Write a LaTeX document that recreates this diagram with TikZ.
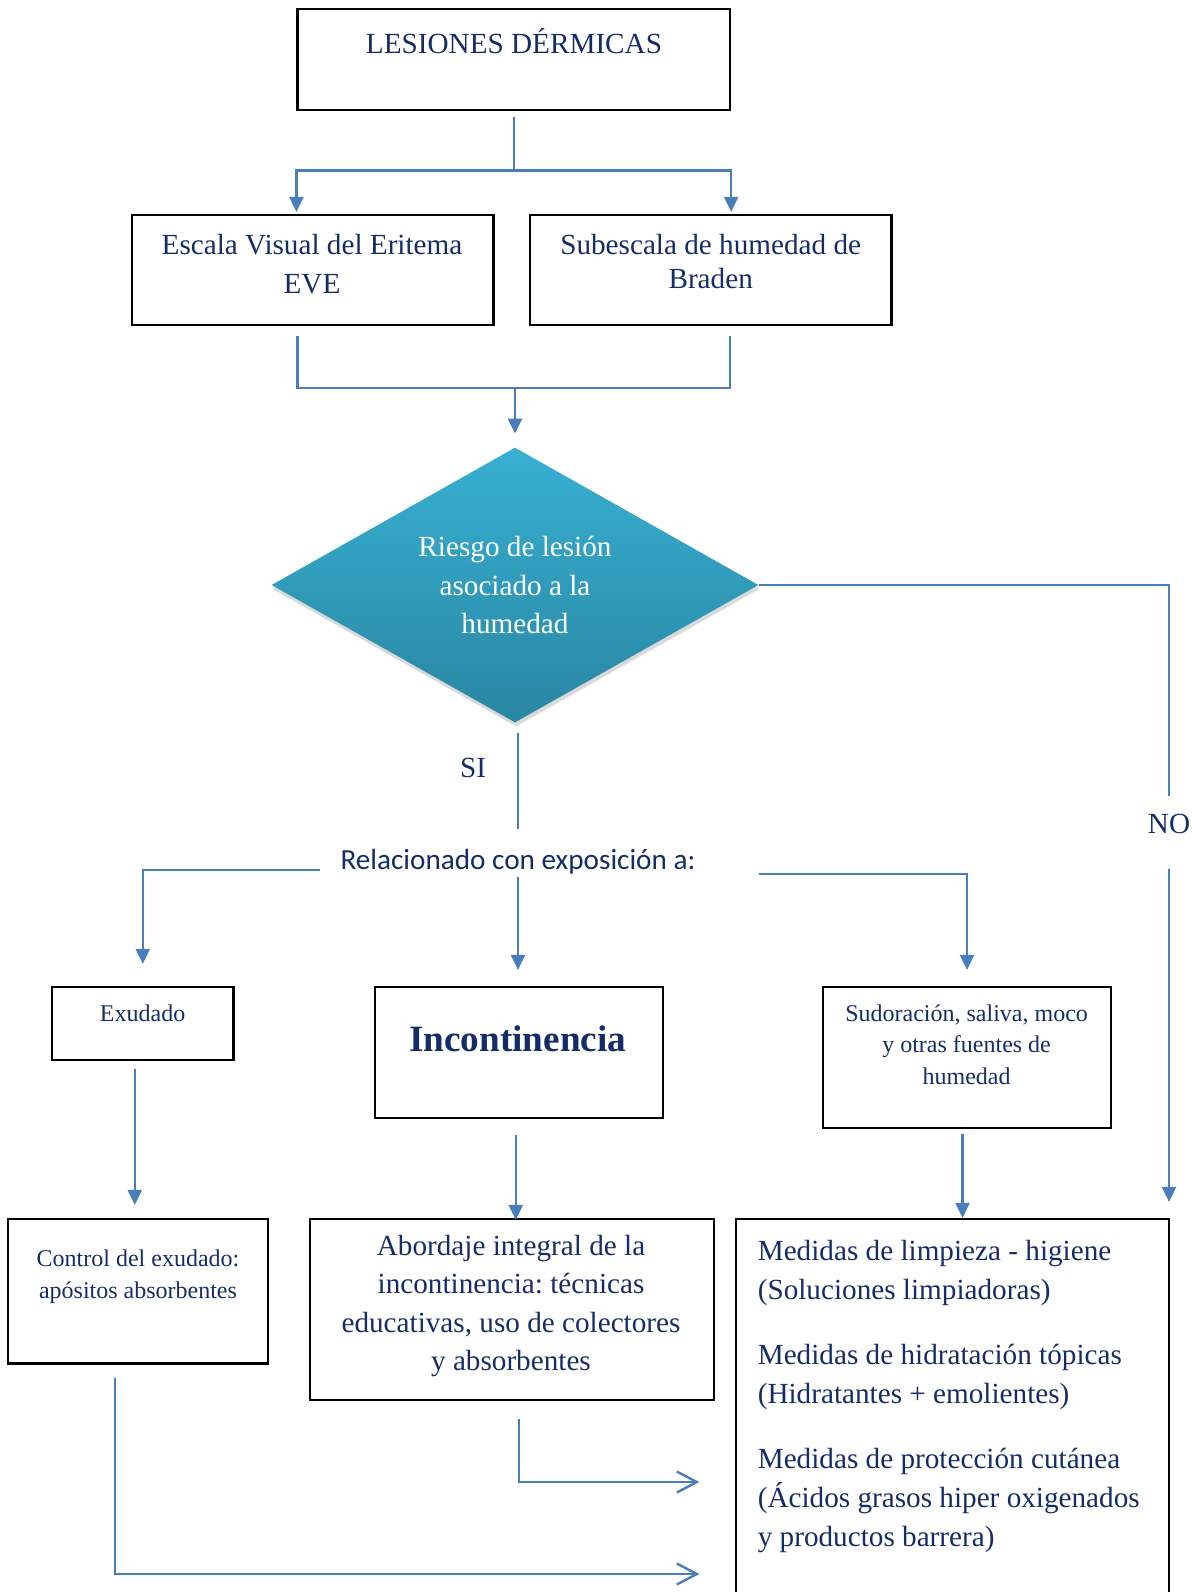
\documentclass[tikz,border=0pt]{standalone}
\usepackage{fontspec}
\setmainfont{Liberation Serif}
\newfontfamily\calibrifont{Carlito}
\usetikzlibrary{arrows.meta,shapes.geometric,shadows}
\frenchspacing

\definecolor{navy}{RGB}{20,45,105}
\definecolor{flowblue}{RGB}{74,126,187}
\definecolor{risktop}{RGB}{56,176,210}
\definecolor{riskbot}{RGB}{41,134,162}

\begin{document}
\begin{tikzpicture}[x=0.5pt,y=-0.5pt,
  box/.style={draw=black, line width=1.1pt, inner sep=0pt},
  txt/.style={text=navy, align=center, inner sep=0pt, font=\fontsize{14.6}{19.3}\selectfont},
  small/.style={txt, font=\fontsize{12}{15.8}\selectfont},
  flow/.style={draw=flowblue, line width=1.2pt},
  tip/.style={flow, -{Triangle[length=7.5pt,width=7pt]}},
  barb/.style={flow, -{Straight Barb[length=10pt,width=10.5pt]}},
  decision/.style={diamond, aspect=1.77, top color=risktop, bottom color=riskbot, text=white,
    align=center, inner sep=2pt, minimum width=243.5pt, minimum height=137.5pt,
    font=\fontsize{14.6}{19.3}\selectfont,
    drop shadow={shadow xshift=0.5pt, shadow yshift=-2pt, opacity=0.3}}]
\clip (0,0) rectangle (1192,1592);

% cajas superiores
\node[box, minimum width=216.25pt, minimum height=50.5pt] (top) at (513.8,59.5) {};
\node[txt] (toptxt) at (514,41) {LESIONES DÉRMICAS};
\node[box, minimum width=180.75pt, minimum height=55pt] (eve) at (312.8,270) {};
\node[txt] (evetxt) at (312,264) {Escala Visual del Eritema\\EVE};
\node[box, minimum width=180.75pt, minimum height=55pt] (braden) at (710.8,270) {};
\node[txt, font=\fontsize{14.6}{16.8}\selectfont] (bradentxt) at (710.7,261.4) {Subescala de humedad de\\Braden};

% decision
\node[decision] (risk) at (515,585) {Riesgo de lesión\\asociado a la\\humedad};
\node[txt] (si) at (473,767.5) {SI};
\node[txt] (no) at (1169,824.4) {NO};
\node[txt, font=\calibrifont\fontsize{14.6}{17}\selectfont] (rel) at (518,862) {Relacionado con exposición a:};

% causas
\node[box, minimum width=90.75pt, minimum height=36.5pt] (exu) at (142.8,1023.5) {};
\node[small] (exutxt) at (142.6,1013.3) {Exudado};
\node[box, minimum width=144.2pt, minimum height=65.5pt] (inc) at (518.8,1052.5) {};
\node[txt, font=\fontsize{18.6}{22}\selectfont\bfseries] (inctxt) at (517.8,1038.6) {Incontinencia};
\node[box, minimum width=143.65pt, minimum height=70.5pt] (sud) at (967,1057.5) {};
\node[small] (sudtxt) at (966.6,1044.7) {Sudoración, saliva, moco\\y otras fuentes de\\humedad};

% medidas
\node[box, minimum width=130pt, minimum height=72.25pt] (ctrl) at (138,1291.25) {};
\node[small, font=\fontsize{12}{16.2}\selectfont] (ctrltxt) at (138,1277) {Control del exudado:\\apósitos absorbentes};
\node[box, minimum width=202pt, minimum height=90.5pt] (abord) at (511.75,1309.5) {};
\node[txt] (abordtxt) at (511,1306) {Abordaje integral de la\\incontinencia: técnicas\\educativas, uso de colectores\\y absorbentes};
\node[box, minimum width=216.3pt, minimum height=210.5pt] (med) at (952.3,1429.5) {};
\node[txt, align=left, anchor=west, font=\fontsize{14.6}{19.5}\selectfont] (medtxt) at (757.4,1396)
  {Medidas de limpieza - higiene\\(Soluciones limpiadoras)\\[13pt]Medidas de hidratación tópicas\\(Hidratantes + emolientes)\\[13pt]Medidas de protección cutánea\\(Ácidos grasos hiper oxigenados\\y productos barrera)};

% conectores
\coordinate (split) at (513,170.5);
\coordinate (joinL) at (297.5,388);
\coordinate (joinR) at (730,388);
\coordinate (merge) at (515,388);
\coordinate (inA) at (med.west |- 0,1482);
\coordinate (inB) at (med.west |- 0,1574);

\draw[flow, shorten <=3pt] (top.south) -- (top.south |- split);
\draw[tip, shorten >=1pt] (split) -| (top.south west |- eve.north);
\draw[tip, shorten >=1pt] (split) -| (top.south east |- braden.north);
\draw[flow, shorten <=5pt, shorten >=5pt] (joinL |- eve.south) -- (joinL) -- (joinR) -- (joinR |- braden.south);
\draw[tip, shorten >=6.75pt] (merge) -- (risk.north);

\draw[flow] (risk.east) -| ([yshift=9pt]no.north);
\draw[tip, shorten >=8pt] ([yshift=-17pt]no.south) -- (no.south |- med.north);
\draw[flow, shorten <=5pt, shorten >=10pt] ([xshift=1.5pt]risk.south) -- ([xshift=1.5pt]risk.south |- rel.north);

\draw[tip, shorten >=11pt] ([xshift=-10pt,yshift=-4pt]rel.west) -| (exu.north);
\draw[tip, shorten <=1pt, shorten >=8pt] (rel.south) -- (rel.south |- inc.north);
\draw[tip, shorten >=8pt] ([xshift=31.5pt,yshift=-6pt]rel.east) -| (sud.north);

\draw[tip, shorten <=4pt, shorten >=6.5pt] ([xshift=-4pt]exu.south) -- ([xshift=-4pt]exu.south |- ctrl.north);
\draw[tip, shorten <=8pt, shorten >=-1pt] ([xshift=-1.5pt]inc.south) -- ([xshift=-1.5pt]inc.south |- abord.north);
\draw[tip, shorten <=2.5pt] ([xshift=-2.25pt]sud.south) -- ([xshift=-2.25pt]sud.south |- med.north);

\draw[barb, shorten <=9pt, shorten >=17.75pt] ([xshift=3.6pt]abord.south) |- (inA);
\draw[barb, shorten <=6.75pt, shorten >=17.75pt] ([xshift=-11.65pt]ctrl.south) |- (inB);
\end{tikzpicture}
\end{document}
